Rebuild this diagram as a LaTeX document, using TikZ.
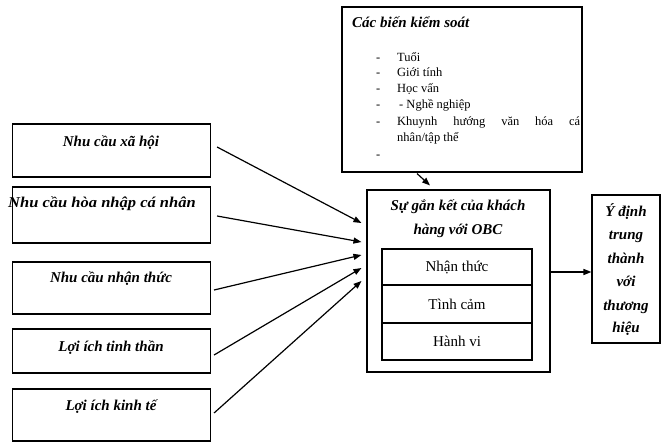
\documentclass[tikz,border=0pt]{standalone}
\usepackage{fontspec}
\setmainfont{Liberation Serif}
\usetikzlibrary{arrows.meta}
\begin{document}
\begin{tikzpicture}[x=1pt,y=-1pt,
  box/.style={draw, line width=1.1pt, inner sep=0pt},
  bt/.style={inner sep=0pt, anchor=base, font=\fontsize{15}{18}\selectfont\bfseries\itshape},
  rt/.style={inner sep=0pt, anchor=base, font=\fontsize{15}{18}\selectfont},
  lt/.style={inner sep=0pt, anchor=base west, font=\fontsize{12.5}{15}\selectfont},
  arr/.style={-{Triangle[length=8pt,width=6pt]}, line width=1.2pt}]
\useasboundingbox (0,0) rectangle (661,443);
% left boxes
\node[box, minimum width=198pt, minimum height=53pt] (b1) at (111.5,150.5) {};
\node[box, minimum width=198pt, minimum height=56pt] (b2) at (111.5,215) {};
\node[box, minimum width=198pt, minimum height=52pt] (b3) at (111.5,288) {};
\node[box, minimum width=198pt, minimum height=44pt] (b4) at (111.5,351) {};
\node[box, minimum width=198pt, minimum height=52pt] (b5) at (111.5,415) {};
\node[bt] (t1) at (111,147) {Nhu cầu xã hội};
\node[bt, xscale=1.1] (t2) at (102,208) {Nhu cầu hòa nhập cá nhân};
\node[bt] (t3) at (111,283) {Nhu cầu nhận thức};
\node[bt] (t4) at (111,352) {Lợi ích tinh thần};
\node[bt] (t5) at (111,410) {Lợi ích kinh tế};
% main box
\node[box, minimum width=183pt, minimum height=182pt] (m) at (458.5,281) {};
\node[bt] (mt1) at (458,211) {Sự gắn kết của khách};
\node[bt] (mt2) at (458,235) {hàng với OBC};
\node[box, minimum width=150pt, minimum height=36pt] (i1) at (457,267) {};
\node[box, minimum width=150pt, minimum height=38pt] (i2) at (457,304) {};
\node[box, minimum width=150pt, minimum height=37pt] (i3) at (457,341.5) {};
\node[rt] (it1) at (457,272) {Nhận thức};
\node[rt] (it2) at (457,310) {Tình cảm};
\node[rt] (it3) at (457,347) {Hành vi};
% right box
\node[box, minimum width=68pt, minimum height=148pt] (r) at (626,269) {};
\node[bt] (r1) at (626,217) {Ý định};
\node[bt] (r2) at (626,240) {trung};
\node[bt] (r3) at (626,264) {thành};
\node[bt] (r4) at (626,287) {với};
\node[bt] (r5) at (626,311) {thương};
\node[bt] (r6) at (626,333) {hiệu};
% control box
\node[box, minimum width=240pt, minimum height=165pt] (c) at (462,89.5) {};
\node[bt, anchor=base west] (ct) at (352,28) {Các biến kiểm soát};
\node[lt] (d1) at (376,62) {-};
\node[lt] (d2) at (376,77) {-};
\node[lt] (d3) at (376,93) {-};
\node[lt] (d4) at (376,109) {-};
\node[lt] (d5) at (376,126) {-};
\node[lt] (d6) at (376,159) {-};
\node[lt] (l1) at (397,62) {Tuổi};
\node[lt] (l2) at (397,77) {Giới tính};
\node[lt] (l3) at (397,93) {Học vấn};
\node[lt] (l4) at (399,109) {- Nghề nghiệp};
\node[lt] (l5) at (397,126) {\makebox[183pt][s]{Khuynh hướng văn hóa cá}};
\node[lt] (l6) at (397,142) {nhân/tập thể};
% arrows
\draw[arr] ([xshift=6pt,yshift=3.5pt]b1.east) -- ([xshift=-5pt,yshift=58pt]m.west);
\draw[arr] ([xshift=6pt,yshift=-1pt]b2.east) -- ([xshift=-5pt,yshift=39pt]m.west);
\draw[arr] ([xshift=3pt,yshift=-2pt]b3.east) -- ([xshift=-5pt,yshift=26pt]m.west);
\draw[arr] ([xshift=3pt,yshift=-4pt]b4.east) -- ([xshift=-5pt,yshift=13pt]m.west);
\draw[arr] ([xshift=3pt,yshift=2pt]b5.east) -- ([xshift=-5pt]m.west);
\draw[arr] ([yshift=9pt]m.east) -- ([yshift=-3pt]r.west);
\draw[arr] ([xshift=-45pt,yshift=-1pt]c.south) -- ([xshift=-28.5pt,yshift=4pt]m.north);
\end{tikzpicture}
\end{document}
